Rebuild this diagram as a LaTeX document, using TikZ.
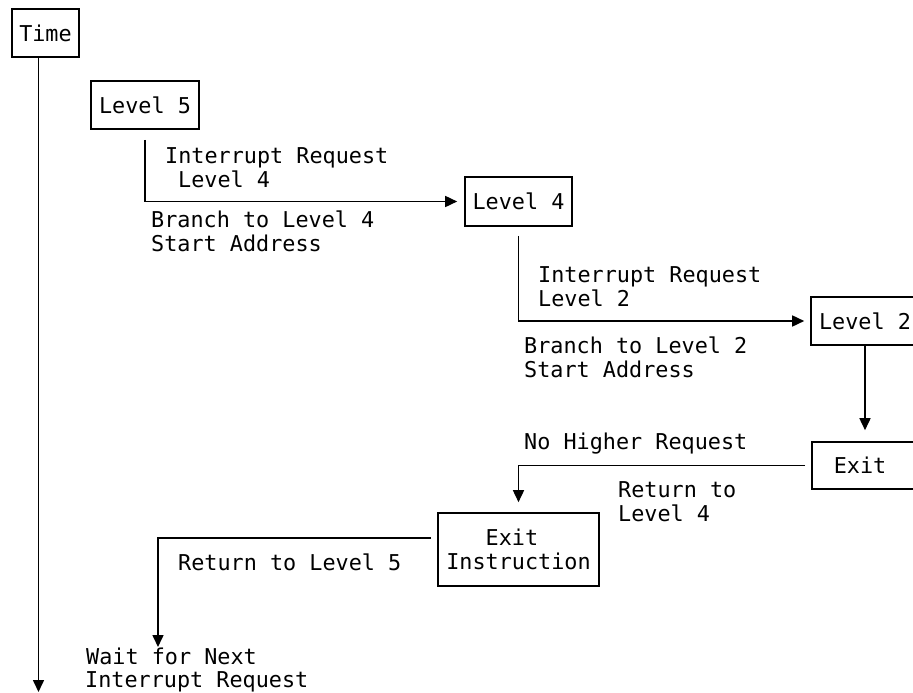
\documentclass[tikz,border=0pt]{standalone}
\usepackage{fontspec}
\setmonofont{DejaVu Sans Mono}
\usetikzlibrary{arrows.meta}
\begin{document}
\begin{tikzpicture}[x=1pt,y=-1pt,
  every node/.style={font=\ttfamily\fontsize{21.8}{24}\selectfont},
  box/.style={draw,line width=1.6pt,inner sep=0pt},
  lbl/.style={anchor=base west,inner sep=0pt},
  conn/.style={line width=1.6pt},
  arr/.style={conn,-{Triangle[length=12pt,width=11pt]}}]
\useasboundingbox (0,0) rectangle (913,693);
% boxes
\node[box,minimum width=67pt,minimum height=48pt] (time) at (45.5,33) {Time};
\node[box,minimum width=108pt,minimum height=48pt] (l5) at (145,105) {Level 5};
\node[box,minimum width=107pt,minimum height=49pt] (l4) at (518.5,201.5) {Level 4};
\node[box,minimum width=108pt,minimum height=48pt] (l2) at (865,321) {Level 2};
\node[box,anchor=west,minimum width=140pt,minimum height=47pt,text width=96pt,align=left,inner xsep=22pt] (exit) at (811,465.5) {Exit};
\node[box,minimum width=161pt,minimum height=73pt,align=left] (ei) at (518.5,549.5) {\hphantom{Exi}Exit\\Instruction};
% labels
\node[lbl] (ir4) at (165,163) {Interrupt Request};
\node[lbl] (lv4) at (178,187) {Level 4};
\node[lbl] (br4) at (151,227) {Branch to Level 4};
\node[lbl] (sa4) at (151,251) {Start Address};
\node[lbl] (ir2) at (538,282) {Interrupt Request};
\node[lbl] (lv2) at (538,306) {Level 2};
\node[lbl] (br2) at (524,353) {Branch to Level 2};
\node[lbl] (sa2) at (524,377) {Start Address};
\node[lbl] (nhr) at (524,449) {No Higher Request};
\node[lbl] (rt4a) at (618,497) {Return to};
\node[lbl] (rt4b) at (618,521) {Level 4};
\node[lbl] (rt5) at (178,570) {Return to Level 5};
\node[lbl] (wait1) at (86,664) {Wait for Next};
\node[lbl] (wait2) at (85,687) {Interrupt Request};
% connectors
\coordinate (tend) at (38.5,692);
\coordinate (wtip) at (158,647);
\draw[arr] (time.south -| tend) -- (tend);
\draw[arr] ([yshift=-10pt]l5.south) |- ([xshift=-7pt]l4.west);
\draw[arr] ([yshift=-9pt]l4.south) |- ([xshift=-6pt]l2.west);
\draw[arr,shorten >=11pt] (l2.south) -- (l2.south |- exit.north);
\draw[arr,shorten >=10pt] ([xshift=-6pt]exit.west) -| (ei.north);
\draw[arr] ([xshift=-6pt,yshift=11.5pt]ei.west) -| (wtip);
\end{tikzpicture}
\end{document}
